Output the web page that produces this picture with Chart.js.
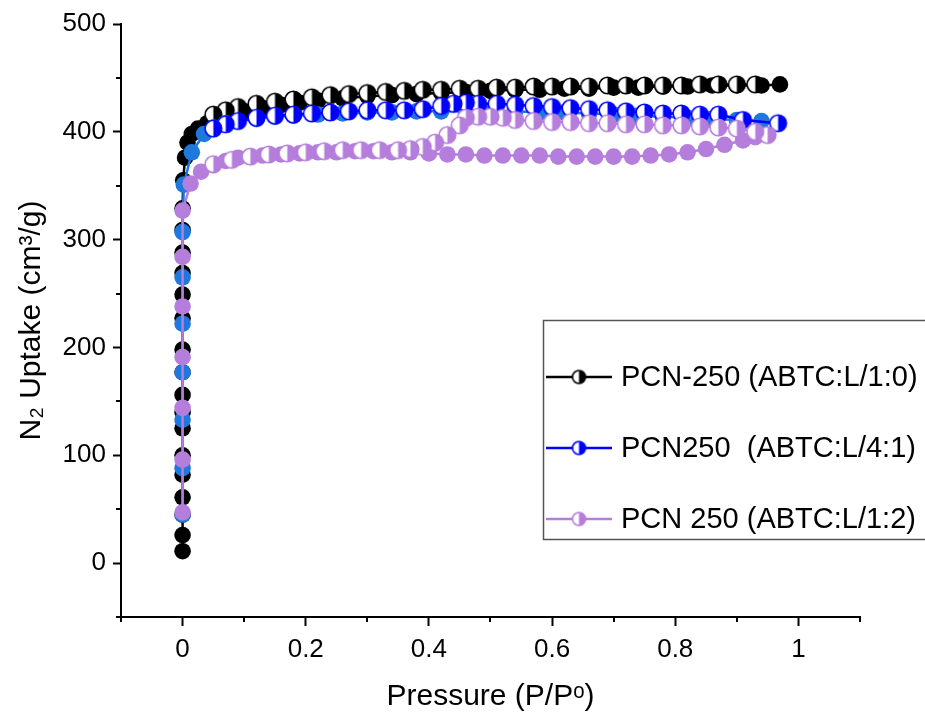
<!DOCTYPE html>
<html>
<head>
<meta charset="utf-8">
<script src="https://cdn.jsdelivr.net/npm/chart.js@4.4.1/dist/chart.umd.min.js"></script>
<style>
  html, body { margin: 0; padding: 0; background: #fff; }
  #wrap { width: 925px; height: 715px; position: relative; }
</style>
</head>
<body>
<div id="wrap"><canvas id="chart"></canvas></div>
<script>
// N2 isotherms at 77 K
const blackAdsP = [0, 0, 0, 0, 0, 0, 0, 0, 0, 0, 0, 0, 0, 0, 0, 0, 0, 0.001, 0.004, 0.008, 0.015, 0.025, 0.04, 0.06, 0.08, 0.10,
  0.13, 0.16, 0.19, 0.22, 0.26, 0.30, 0.34, 0.38, 0.42, 0.46, 0.50, 0.54, 0.58, 0.62, 0.66, 0.70, 0.74, 0.78, 0.82, 0.86, 0.90, 0.94, 0.97];
const blackAdsV = [11, 26, 45, 61, 82, 100, 125, 140, 156, 177, 198, 227, 249, 269, 288, 309, 329, 355, 376, 390, 398, 403, 408, 413, 416, 419,
  422, 425, 427, 429, 431, 433, 434, 435, 436, 437, 438, 439, 439, 440, 440, 441, 441, 442, 442, 443, 443, 443, 444];
const blackDesP = [0.93, 0.90, 0.87, 0.84, 0.81, 0.78, 0.75, 0.72, 0.69, 0.66, 0.63, 0.60, 0.57, 0.54, 0.51, 0.48, 0.45, 0.42, 0.39, 0.36,
  0.33, 0.30, 0.27, 0.24, 0.21, 0.18, 0.15, 0.12, 0.09, 0.07, 0.05];
const blackDesV = [444, 444, 444, 444, 443, 443, 443, 443, 443, 442, 442, 442, 442, 441, 441, 440, 440, 439, 439, 438,
  437, 436, 435, 434, 432, 430, 428, 426, 423, 420, 416];

const blueAdsP = [0, 0, 0, 0, 0, 0, 0, 0.002, 0.015, 0.035, 0.05, 0.07, 0.09, 0.12, 0.15, 0.18, 0.22, 0.26, 0.30, 0.34, 0.38,
  0.42, 0.46, 0.50, 0.54, 0.58, 0.62, 0.66, 0.70, 0.74, 0.78, 0.82, 0.86, 0.90, 0.94];
const blueAdsV = [45, 88, 133, 177, 222, 265, 307, 351, 381, 398, 404, 408, 410, 412, 414, 415, 416, 417, 418, 418, 419,
  419, 419, 419, 419, 418, 418, 417, 416, 415, 414, 413, 412, 411, 410];
const blueDesP = [0.967, 0.91, 0.87, 0.84, 0.81, 0.78, 0.75, 0.72, 0.69, 0.66, 0.63, 0.60, 0.57, 0.54, 0.51, 0.48, 0.46, 0.44,
  0.42, 0.39, 0.36, 0.33, 0.30, 0.27, 0.24, 0.21, 0.18, 0.15, 0.12, 0.09, 0.07, 0.05];
const blueDesV = [408, 411, 416, 416, 417, 417, 418, 419, 420, 421, 422, 423, 424, 425, 426, 426, 427, 426,
  424, 421, 420, 420, 420, 419, 418, 417, 416, 415, 413, 410, 407, 403];

const purpleAdsP = [0, 0, 0, 0, 0, 0, 0, 0.013, 0.03, 0.05, 0.07, 0.09, 0.11, 0.13, 0.16, 0.19, 0.22, 0.25, 0.28, 0.31, 0.34,
  0.37, 0.40, 0.43, 0.46, 0.49, 0.52, 0.55, 0.58, 0.61, 0.64, 0.67, 0.70, 0.73, 0.76, 0.79, 0.82, 0.85, 0.88, 0.91, 0.93, 0.95];
const purpleAdsV = [47, 96, 144, 191, 238, 284, 327, 352, 363, 369, 373, 376, 377, 378, 379, 380, 381, 381, 382, 382, 381,
  381, 380, 379, 379, 378, 378, 378, 378, 377, 377, 377, 377, 377, 378, 379, 381, 384, 388, 392, 395, 397];
const purpleDesP = [0.95, 0.93, 0.90, 0.87, 0.84, 0.81, 0.78, 0.75, 0.72, 0.69, 0.66, 0.63, 0.60, 0.57, 0.54, 0.52, 0.50, 0.48,
  0.46, 0.45, 0.43, 0.41, 0.39, 0.37, 0.35, 0.32, 0.29, 0.26, 0.23, 0.20, 0.17, 0.14, 0.11, 0.08, 0.05];
const purpleDesV = [397, 400, 403, 404, 405, 406, 406, 407, 407, 408, 408, 409, 409, 410, 411, 413, 414, 414,
  413, 406, 397, 390, 386, 384, 383, 383, 383, 383, 382, 381, 380, 379, 377, 374, 370];

const seriesNames = ['PCN-250 (ABTC:L/1:0)', 'PCN250  (ABTC:L/4:1)', 'PCN 250 (ABTC:L/1:2)'];

const xMajorTicks = [0, 0.2, 0.4, 0.6, 0.8, 1];
const xMinorTicks = [-0.1, 0.1, 0.3, 0.5, 0.7, 0.9, 1.1];
const yMajorTicks = [0, 100, 200, 300, 400, 500];
const yMinorTicks = [-50, 50, 150, 250, 350, 450];

const FONT = '"Liberation Sans", Arial, sans-serif';

function pts(px, vy) {
  return px.map((x, i) => ({ x: x, y: vy[i] }));
}

// circle with the right half filled, like Origin's "half right" symbol
function halfMarker(color, r) {
  const c = document.createElement('canvas');
  const s = Math.ceil(2 * r + 4);
  c.width = s; c.height = s;
  const g = c.getContext('2d');
  const m = s / 2;
  g.beginPath(); g.arc(m, m, r, 0, Math.PI * 2); g.fillStyle = '#fff'; g.fill();
  g.beginPath(); g.moveTo(m, m - r); g.arc(m, m, r, -Math.PI / 2, Math.PI / 2); g.closePath();
  g.fillStyle = color; g.fill();
  g.beginPath(); g.arc(m, m, r, 0, Math.PI * 2);
  g.lineWidth = 1.6; g.strokeStyle = color; g.stroke();
  return c;
}

function desSet(label, data, color, order) {
  return {
    label: label, data: data, showLine: true, borderColor: color, backgroundColor: color,
    borderWidth: 2.5, pointStyle: halfMarker(color, 8.3), legendMarker: halfMarker(color, 6.5),
    inLegend: true, order: order
  };
}
function adsSet(data, color, order) {
  return {
    label: '', data: data, showLine: true, borderColor: color, backgroundColor: color,
    borderWidth: 2.5, pointStyle: 'circle', pointRadius: 8.3, pointBorderWidth: 0, order: order
  };
}

const minorTicks = {
  id: 'minorTicks',
  afterDraw(chart) {
    const { ctx, scales: { x, y } } = chart;
    ctx.save();
    ctx.strokeStyle = '#000';
    ctx.lineWidth = 2;
    xMinorTicks.forEach(v => {
      const p = Math.round(x.getPixelForValue(v));
      ctx.beginPath(); ctx.moveTo(p, x.top); ctx.lineTo(p, x.top + 5); ctx.stroke();
    });
    yMinorTicks.forEach(v => {
      const p = Math.round(y.getPixelForValue(v));
      ctx.beginPath(); ctx.moveTo(y.right, p); ctx.lineTo(y.right - 5, p); ctx.stroke();
    });
    ctx.restore();
  }
};

const boxLegend = {
  id: 'boxLegend',
  afterDraw(chart) {
    const ctx = chart.ctx;
    const items = chart.data.datasets.filter(d => d.inLegend);
    ctx.save();
    ctx.strokeStyle = '#555';
    ctx.lineWidth = 1.5;
    ctx.strokeRect(543.5, 320.5, 420, 219);
    ctx.font = '29px ' + FONT;
    ctx.textBaseline = 'middle';
    ctx.fillStyle = '#000';
    items.forEach((d, i) => {
      const yy = 377 + i * 71;
      ctx.strokeStyle = d.borderColor;
      ctx.lineWidth = 2.5;
      ctx.beginPath(); ctx.moveTo(546, yy); ctx.lineTo(612, yy); ctx.stroke();
      const m = d.legendMarker;
      ctx.drawImage(m, 579 - m.width / 2, yy - m.height / 2);
      ctx.fillText(d.label, 621, yy + 1);
    });
    ctx.restore();
  }
};

new Chart(document.getElementById('chart'), {
  type: 'scatter',
  data: {
    datasets: [
      desSet(seriesNames[0], pts(blackDesP, blackDesV), '#000000', 4),
      desSet(seriesNames[1], pts(blueDesP, blueDesV), '#0000ff', 2),
      desSet(seriesNames[2], pts(purpleDesP, purpleDesV), '#b57edc', 0),
      adsSet(pts(blackAdsP, blackAdsV), '#000000', 5),
      adsSet(pts(blueAdsP, blueAdsV), '#1f78dc', 3),
      adsSet(pts(purpleAdsP, purpleAdsV), '#b57edc', 1)
    ]
  },
  options: {
    responsive: true,
    maintainAspectRatio: false,
    animation: false,
    devicePixelRatio: 1,
    layout: { padding: { top: 24, right: 65, left: 0, bottom: 0 } },
    plugins: { legend: { display: false }, tooltip: { enabled: false } },
    elements: { line: { tension: 0 } },
    scales: {
      x: {
        type: 'linear', min: -0.1, max: 1.1,
        afterBuildTicks: s => { s.ticks = xMajorTicks.map(v => ({ value: v })); },
        afterFit: s => { s.height = 98; },
        ticks: {
          color: '#000', padding: 8, font: { family: FONT, size: 26 },
          callback: v => String(Math.round(v * 10) / 10)
        },
        grid: { drawOnChartArea: false, drawTicks: true, tickLength: 9, tickColor: '#000', tickWidth: 2 },
        border: { color: '#000', width: 2 },
        title: { display: true, text: 'Pressure (P/Pᵒ)', color: '#000', font: { family: FONT, size: 30 }, padding: { top: 5, bottom: 0 } }
      },
      y: {
        type: 'linear', min: -50, max: 500,
        afterBuildTicks: s => { s.ticks = yMajorTicks.map(v => ({ value: v })); },
        afterFit: s => { s.width = 121; },
        ticks: { color: '#000', padding: 7, font: { family: FONT, size: 26 } },
        grid: { drawOnChartArea: false, drawTicks: true, tickLength: 8, tickColor: '#000', tickWidth: 2 },
        border: { color: '#000', width: 2 },
        title: { display: true, text: 'N₂ Uptake (cm³/g)', color: '#000', font: { family: FONT, size: 30 }, padding: { top: 14, bottom: 0 } }
      }
    }
  },
  plugins: [minorTicks, boxLegend]
});
</script>
</body>
</html>
